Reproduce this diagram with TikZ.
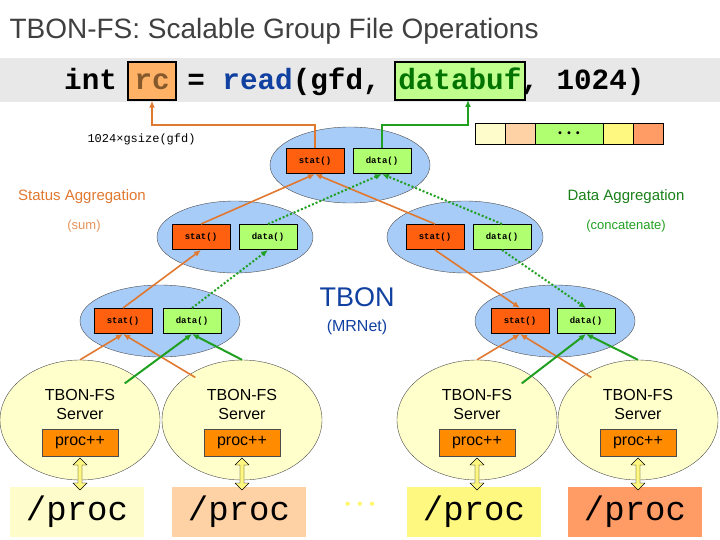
\documentclass[tikz,border=0pt]{standalone}
\usepackage{fontspec}
\setsansfont{Liberation Sans}
\setmonofont{Liberation Mono}
\usetikzlibrary{arrows.meta,shapes.arrows,shapes.geometric}
\definecolor{og}{HTML}{E07830}
\definecolor{gr}{HTML}{20A020}
\definecolor{sbox}{HTML}{FF6010}
\definecolor{dbox}{HTML}{B0FF70}
\definecolor{ell}{HTML}{A8CCF8}
\definecolor{srv}{HTML}{FFFFCC}
\definecolor{tb}{HTML}{1040A0}
\tikzset{
 x=1pt,y=-1pt,
 agg/.style={ellipse,draw=black!70,fill=ell,minimum width=156pt,minimum height=72pt,inner sep=0},
 sv/.style={ellipse,draw=black!70,fill=srv,minimum width=160pt,minimum height=120pt,inner sep=0},
 sb/.style={draw=black,line width=1pt,fill=sbox,minimum width=58pt,minimum height=25pt,inner sep=0,font=\ttfamily\bfseries\fontsize{9}{10}\selectfont},
 db/.style={sb,fill=dbox},
 pp/.style={draw=black!70,fill=orange!90!yellow,minimum width=76pt,minimum height=27pt,inner sep=0,font=\sffamily\fontsize{16}{17}\selectfont},
 pr/.style={minimum width=134pt,minimum height=50pt,inner sep=0,font=\ttfamily\fontsize{34}{36}\selectfont},
 oa/.style={draw=og,line width=1.6pt,-{Latex[length=7pt,width=6pt]}},
 ga/.style={draw=gr,line width=2pt,-{Latex[length=7pt,width=6pt]}},
 gd/.style={ga,dotted},
 da/.style={double arrow,draw=black,fill=yellow!50,minimum height=32pt,minimum width=14pt,double arrow head extend=3pt,inner sep=1pt,rotate=90},
 cell/.style={draw=black,line width=1pt,minimum height=21pt,inner sep=0}
}
\begin{document}
\begin{tikzpicture}
\useasboundingbox (0,0) rectangle (720,540);
\node[anchor=west,font=\sffamily\fontsize{28}{30}\selectfont,text=black!75] (title) at (6,31) {TBON-FS: Scalable Group File Operations};
\fill[black!9] (0,58) rectangle (720,102);
\node[draw=black,line width=1.5pt,fill=orange!60!white,minimum width=48pt,minimum height=38pt,inner sep=0] (rc) at (152,81) {};
\node[draw=black,line width=1.5pt,fill=dbox!80!white,minimum width=130pt,minimum height=38pt,inner sep=0] (buf) at (460,81) {};
\node[anchor=base west,font=\ttfamily\bfseries\fontsize{29.3}{30}\selectfont,inner sep=0] (code) at (64,90) {int \textcolor{brown!70!black}{rc} = \textcolor{tb}{read}(gfd, \textcolor{green!45!black}{databuf}, 1024)};
\node[anchor=west,font=\ttfamily\fontsize{12}{13}\selectfont] (gs) at (84,139) {1024×gsize(gfd)};
% buffer
\node[cell,fill=yellow!20,minimum width=30pt] (c1) at (490,134) {};
\node[cell,fill=orange!35,minimum width=30pt] (c2) at (520,134) {};
\node[cell,fill=dbox,minimum width=68pt,font=\fontsize{10}{10}\selectfont] (c3) at (569,134) {\textbf{•••}};
\node[cell,fill=yellow!50,minimum width=30pt] (c4) at (618,134) {};
\node[cell,fill=orange!70!red!60,minimum width=30pt] (c5) at (648,134) {};
% aggregation ellipses
\node[agg,minimum width=160pt,minimum height=76pt] (E0) at (350,165) {};
\node[sb] (s0) at (315,161) {stat()}; \node[db] (d0) at (382,161) {data()};
\node[agg] (E1) at (235,237) {};
\node[sb] (s1) at (201,237) {stat()}; \node[db] (d1) at (268,237) {data()};
\node[agg] (E2) at (465,237) {};
\node[sb] (s2) at (435,237) {stat()}; \node[db] (d2) at (502,237) {data()};
\node[agg,minimum width=160pt] (E3) at (160,321) {};
\node[sb] (s3) at (123,321) {stat()}; \node[db] (d3) at (192,321) {data()};
\node[agg,minimum width=160pt] (E4) at (555,321) {};
\node[sb] (s4) at (520,321) {stat()}; \node[db] (d4) at (586,321) {data()};
% labels
\node[text=og,font=\sffamily\fontsize{15}{16}\selectfont] (sa) at (82,197) {Status Aggregation};
\node[text=og!80,font=\sffamily\fontsize{13}{14}\selectfont] (sum) at (84,226) {(sum)};
\node[text=gr!80!black,font=\sffamily\fontsize{15}{16}\selectfont] (dag) at (626,197) {Data Aggregation};
\node[text=gr,font=\sffamily\fontsize{13}{14}\selectfont] (cc) at (626,226) {(concatenate)};
\node[text=tb,font=\sffamily\fontsize{27}{28}\selectfont] (tbon) at (357,297) {TBON};
\node[text=tb,font=\sffamily\fontsize{16}{17}\selectfont] (mr) at (357,327) {(MRNet)};
% servers
\foreach \i/\x/\c in {1/80/yellow!20,2/242/orange!35,3/477/yellow!50,4/638/orange!70!red!60}{
 \node[sv] (S\i) at (\x,420) {};
 \node[font=\sffamily\fontsize{16}{19}\selectfont,align=center] (T\i) at (\x,404) {TBON-FS\\Server};
 \node[pp] (P\i) at (\x,443) {proc++};
 \node[pr,fill=\c] (R\i) at (\x-3,512) {/proc};
 \node[da] (A\i) at (\x,474) {};
}
\node[text=yellow!60,font=\bfseries\fontsize{14}{14}\selectfont] (dots) at (360,505) {•••};
% top arrows
\draw[oa] (s0.north) |- (152,125) -- (rc.south);
\draw[ga] (d0.north) |- (468,125) -- (468,100);
% mid to top
\draw[oa] (s1.north) -- (s0.south);
\draw[oa] (s2.north) -- (s0.south);
\draw[gd] (d1.north) -- (d0.south);
\draw[gd] (d2.north) -- (d0.south);
% lower to mid
\draw[oa] (s3.north) -- (s1.south);
\draw[gd] (d3.north) -- (d1.south);
\draw[oa] (s2.south) -- (s4.north);
\draw[gd] (d2.south) -- (d4.north);
% servers to lower
\draw[oa] (S1.north) -- (s3.south);
\draw[oa] (S2.north west) ++(10,0) -- (s3.south);
\draw[ga] (S1.north east) ++(-12,6) -- (d3.south);
\draw[ga] (S2.north) -- (d3.south);
\draw[oa] (S3.north) -- (s4.south);
\draw[oa] (S4.north west) ++(10,0) -- (s4.south);
\draw[ga] (S3.north east) ++(-12,6) -- (d4.south);
\draw[ga] (S4.north) -- (d4.south);
\end{tikzpicture}
\end{document}
